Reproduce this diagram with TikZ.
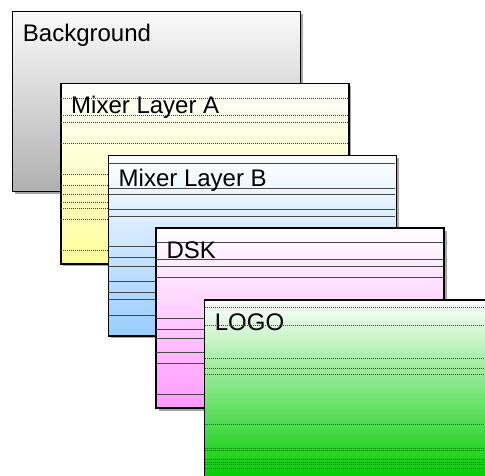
\documentclass[tikz,border=0pt]{standalone}
\usepackage{fontspec}
\setmainfont{Liberation Sans}
\usetikzlibrary{shadows}
\definecolor{bgBot}{HTML}{B0B0B0}
\definecolor{aBot}{HTML}{FFFF99}
\definecolor{bBot}{HTML}{99CCFF}
\definecolor{dskBot}{HTML}{FF99FF}
\definecolor{logoBot}{HTML}{00CC00}
\tikzset{
  panel/.style={draw=black, line width=1.5pt, anchor=north west,
    minimum width=288pt, minimum height=180pt, inner sep=0pt,
    top color=white, bottom color=#1,
    drop shadow={shadow xshift=2.5pt, shadow yshift=-2.5pt, fill=black, opacity=0.35}},
  lbl/.style={anchor=base west, inner sep=0pt, font=\fontsize{24pt}{28pt}\selectfont},
  band/.style={draw=black!72, line width=0.65pt, dash pattern=on 1.6pt off 0.4pt}
}
\begin{document}
\begin{tikzpicture}[x=1pt, y=-1pt]
  \useasboundingbox (0,0) rectangle (485,476);

  % Background layer
  \node[panel=bgBot, top color=black!2] (bg) at (11.7,11) {};
  \node[lbl] (bgT) at ([xshift=11pt, yshift=-30.8pt]bg.north west) {Background};

  % Mixer layer A
  \node[panel=aBot] (la) at (60,83) {};
  \foreach \y in {98,115,122,143,174,185,194.5,202.5,208,219,250}
    \draw[band] (60.8,\y) -- (346.9,\y);
  \node[lbl] (laT) at ([xshift=11pt, yshift=-31pt]la.north west) {Mixer Layer A};

  % Mixer layer B
  \node[panel=bBot] (lb) at (107.5,155) {};
  \foreach \y in {163,188,194,209,216,246,257,266,281,292,299,315}
    \draw[band] (108.3,\y) -- (394.7,\y);
  \node[lbl] (lbT) at ([xshift=11pt, yshift=-31pt]lb.north west) {Mixer Layer B};

  % Downstream keyer
  \node[panel=dskBot] (dsk) at (155.3,227.3) {};
  \foreach \y in {242,259,266,277,318,329,338,352,363,394}
    \draw[band] (156.1,\y) -- (442.5,\y);
  \node[lbl] (dskT) at ([xshift=11pt, yshift=-31pt]dsk.north west) {DSK};

  % Logo layer
  \node[panel=logoBot] (logo) at (203.7,299) {};
  \node[lbl] (logoT) at ([xshift=11pt, yshift=-31pt]logo.north west) {LOGO};
  \foreach \y in {307,325,358,368,374,424,448.5,450,459.5,462,464.5,468.5}
    \draw[band] (204.5,\y) -- (490.9,\y);
\end{tikzpicture}
\end{document}
